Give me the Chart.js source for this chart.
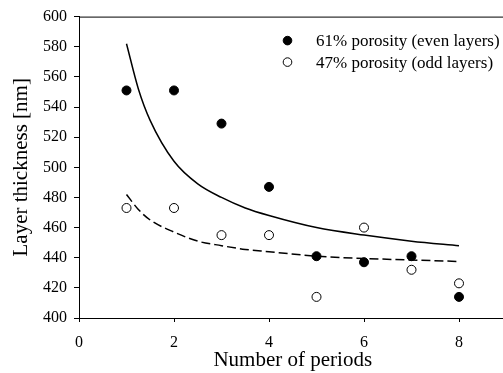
<!DOCTYPE html>
<html>
<head>
<meta charset="utf-8">
<script src="https://cdn.jsdelivr.net/npm/chart.js@4.4.1/dist/chart.umd.min.js"></script>
<style>
  html, body { margin: 0; padding: 0; background: #fff; overflow: hidden; }
  #wrap { position: relative; width: 512px; height: 373px; }
</style>
</head>
<body>
<div id="wrap"><canvas id="chart" width="512" height="373"></canvas></div>
<script>
// measured points
const periods = [1, 2, 3, 4, 5, 6, 7, 8];
const evenLayers = [551, 551, 529, 487, 441, 437, 441, 414];
const oddLayers = [473, 473, 455, 455, 414, 460, 432, 423];

// fitted curves
const fitX = [1, 1.25, 1.5, 2, 2.5, 3, 3.5, 4, 5, 6, 7, 8];
const evenFit = [582, 552, 531, 504, 489, 480, 473, 468, 460, 455, 451, 448];
const oddFit = [482, 472, 465, 457, 451, 448, 445.5, 444, 441, 439.5, 438.5, 437.5];

const xTicks = [0, 2, 4, 6, 8];
const legendLabels = ['61% porosity (even layers)', '47% porosity (odd layers)'];

const serif = '"Liberation Serif", "Times New Roman", serif';
const pts = (xs, ys) => xs.map((x, i) => ({ x, y: ys[i] }));

// top frame line + legend in the plot area
const framePlugin = {
    id: 'frame',
    afterDraw(chart) {
        const { ctx, chartArea: a } = chart;
        ctx.save();
        ctx.strokeStyle = '#000';
        ctx.lineWidth = 1;
        ctx.beginPath();
        ctx.moveTo(a.left, a.top + 0.5);
        ctx.lineTo(a.right, a.top + 0.5);
        ctx.stroke();

        ctx.font = '17px ' + serif;
        ctx.textBaseline = 'middle';
        const rows = [
            { ds: chart.data.datasets[0], y: a.top + 24 },
            { ds: chart.data.datasets[1], y: a.top + 45.5 },
        ];
        rows.forEach((r, i) => {
            ctx.beginPath();
            ctx.arc(a.left + 208.5, r.y, 4.3, 0, Math.PI * 2);
            ctx.fillStyle = r.ds.pointBackgroundColor;
            ctx.fill();
            ctx.strokeStyle = '#000';
            ctx.lineWidth = 1;
            ctx.stroke();
            ctx.fillStyle = '#000';
            ctx.fillText(legendLabels[i], a.left + 237, r.y + 1);
        });
        ctx.restore();
    }
};

new Chart(document.getElementById('chart'), {
    type: 'line',
    data: {
        datasets: [
            {
                label: legendLabels[0],
                data: pts(periods, evenLayers),
                showLine: false,
                pointRadius: 4.5,
                pointBackgroundColor: '#000',
                pointBorderColor: '#000',
                pointBorderWidth: 1,
            },
            {
                label: legendLabels[1],
                data: pts(periods, oddLayers),
                showLine: false,
                pointRadius: 4.5,
                pointBackgroundColor: '#fff',
                pointBorderColor: '#000',
                pointBorderWidth: 1,
            },
            {
                label: 'fit even',
                data: pts(fitX, evenFit),
                borderColor: '#000',
                borderWidth: 1.5,
                pointRadius: 0,
                tension: 0.4,
                cubicInterpolationMode: 'monotone',
                fill: false,
            },
            {
                label: 'fit odd',
                data: pts(fitX, oddFit),
                borderColor: '#000',
                borderWidth: 1.5,
                borderDash: [9, 4],
                pointRadius: 0,
                tension: 0.4,
                cubicInterpolationMode: 'monotone',
                fill: false,
            },
        ]
    },
    options: {
        responsive: false,
        animation: false,
        layout: { padding: { top: 16, right: 1, left: 0, bottom: 0 } },
        plugins: { legend: { display: false }, tooltip: { enabled: false } },
        scales: {
            x: {
                type: 'linear',
                min: 0, max: 9,
                afterBuildTicks: s => { s.ticks = xTicks.map(v => ({ value: v })); },
                afterFit: s => { s.height = 55; },
                grid: { display: true, drawOnChartArea: false, drawTicks: true, tickLength: 4, color: '#000' },
                border: { color: '#000', width: 1 },
                ticks: { color: '#000', font: { family: serif, size: 16 }, padding: 11, maxRotation: 0 },
                title: { display: true, text: 'Number of periods', color: '#000', font: { family: serif, size: 21 }, padding: { top: 0, bottom: 0 } }
            },
            y: {
                min: 400, max: 600,
                ticks: { stepSize: 20, color: '#000', font: { family: serif, size: 16 }, padding: 7 },
                afterFit: s => { s.width = 79; },
                grid: { display: true, drawOnChartArea: false, drawTicks: true, tickLength: 5, color: '#000' },
                border: { color: '#000', width: 1 },
                title: { display: true, text: 'Layer thickness [nm]', color: '#000', font: { family: serif, size: 21 }, padding: { top: 9, bottom: 0 } }
            }
        }
    },
    plugins: [framePlugin]
});
</script>
</body>
</html>
